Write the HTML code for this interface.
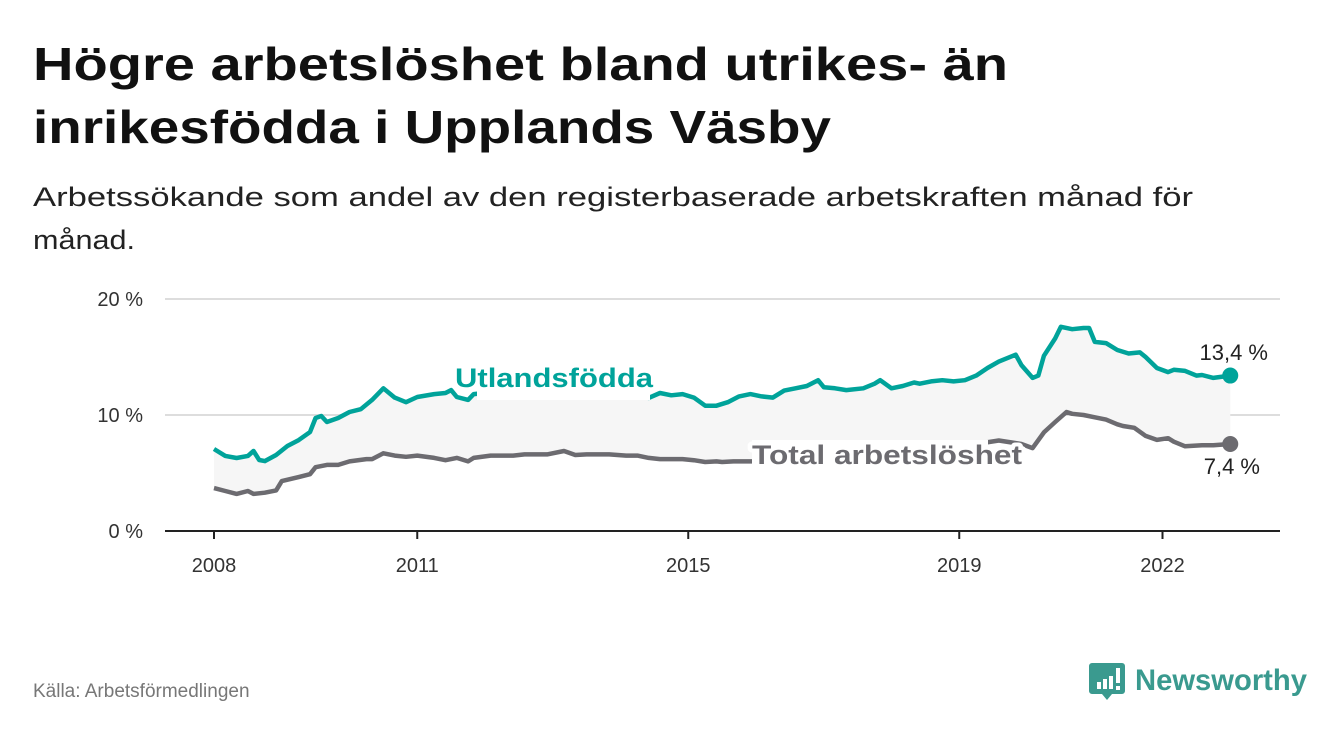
<!DOCTYPE html>
<html><head><meta charset="utf-8">
<style>
html,body{margin:0;padding:0;background:#fff;}
svg{display:block;font-family:"Liberation Sans",sans-serif;}
</style></head>
<body>
<svg id="chart" width="1340" height="734" viewBox="0 0 1340 734">
  <text x="33" y="80" font-size="46" font-weight="bold" fill="#111" textLength="975" lengthAdjust="spacingAndGlyphs">Högre arbetslöshet bland utrikes- än</text>
  <text x="33" y="143" font-size="46" font-weight="bold" fill="#111" textLength="798" lengthAdjust="spacingAndGlyphs">inrikesfödda i Upplands Väsby</text>
  <text x="33" y="206" font-size="27" fill="#222" textLength="1160" lengthAdjust="spacingAndGlyphs">Arbetssökande som andel av den registerbaserade arbetskraften månad för</text>
  <text x="33" y="249" font-size="27" fill="#222" textLength="102" lengthAdjust="spacingAndGlyphs">månad.</text>
  <g id="grid"></g>
  <g id="area"></g>
  <g id="lines"></g>
  <g id="labels"></g>
  <g id="xaxis"></g>
  <text x="33" y="697" font-size="19" fill="#777">Källa: Arbetsförmedlingen</text>
  <g>
    <path d="M1092 663 h30 a3 3 0 0 1 3 3 v25 a3 3 0 0 1 -3 3 h-10 l-5 6 l-5 -6 h-10 a3 3 0 0 1 -3 -3 v-25 a3 3 0 0 1 3 -3z" fill="#3a9a8f"/>
    <rect x="1097" y="682" width="4" height="7" fill="#fff"/><rect x="1103" y="679" width="4" height="10" fill="#fff"/><rect x="1109" y="676" width="4" height="13" fill="#fff"/><rect x="1116" y="668" width="4" height="15" fill="#fff"/><rect x="1116" y="686" width="4" height="4" fill="#fff"/>
    <text x="1135" y="690" font-size="30" font-weight="bold" fill="#3a9a8f" textLength="172" lengthAdjust="spacingAndGlyphs">Newsworthy</text>
  </g>
</svg>
<script>
// months since Jan 2008
const foreignMonths = [0,2,4,6,7,8,9,11,13,15,17,18,19,20,22,24,26,28,30,32,34,36,39,41,42,43,45,46,50,58,66,74,77,79,81,83,85,87,89,91,93,95,97,99,101,103,105,107,108,110,112,115,117,118,120,122,124,125,127,129,131,133,135,137,139,142,143,145,146,147,149,150,152,154,155,156,158,160,162,164,165,167,169,170,172,174,175,177,180];
const foreignValues = [7.07,6.47,6.29,6.47,6.9,6.12,6.03,6.55,7.33,7.84,8.53,9.74,9.91,9.4,9.74,10.26,10.5,11.3,12.3,11.5,11.1,11.55,11.8,11.9,12.15,11.55,11.3,11.8,12.0,12.2,11.9,11.8,11.47,11.9,11.7,11.8,11.5,10.8,10.8,11.1,11.6,11.8,11.6,11.5,12.1,12.3,12.5,13.0,12.4,12.3,12.15,12.3,12.7,13.0,12.3,12.5,12.8,12.7,12.9,13.0,12.9,13.0,13.4,14.05,14.6,15.2,14.3,13.2,13.4,15.1,16.6,17.6,17.4,17.5,17.5,16.3,16.2,15.6,15.3,15.4,15.0,14.05,13.7,13.9,13.8,13.4,13.45,13.2,13.4];
const totalMonths = [0,2,4,6,7,9,11,12,15,17,18,20,22,24,27,28,30,32,34,36,39,41,43,45,46,49,51,53,55,57,59,62,64,66,68,70,73,75,77,79,81,83,85,87,89,90,92,95,100,106,112,118,124,130,135,139,143,145,147,149,151,152,154,156,158,160,161,163,165,167,169,170,172,175,177,180];
const totalValues = [3.7,3.45,3.2,3.45,3.2,3.3,3.5,4.3,4.65,4.9,5.5,5.7,5.7,6.0,6.2,6.2,6.7,6.5,6.4,6.5,6.3,6.1,6.3,6.0,6.3,6.5,6.5,6.5,6.6,6.6,6.6,6.9,6.55,6.6,6.6,6.6,6.5,6.5,6.3,6.2,6.2,6.2,6.1,5.95,6.0,5.95,6.0,6.0,6.0,6.1,6.2,6.4,6.6,7.0,7.5,7.8,7.5,7.15,8.5,9.4,10.26,10.1,10.0,9.8,9.6,9.2,9.05,8.9,8.2,7.85,8.0,7.7,7.3,7.4,7.4,7.5];
const yTicks = [0,10,20];
const yTickLabels = ["0 %","10 %","20 %"];
const xTickYears = [2008,2011,2015,2019,2022];
const endLabels = ["13,4 %","7,4 %"];

const NS="http://www.w3.org/2000/svg";
const x = m => 214 + m*67.75/12;
const xYear = yr => x((yr-2008)*12);
const y = v => 531 - v*11.6;
function mk(tag, attrs, parent){const e=document.createElementNS(NS,tag);for(const k in attrs)e.setAttribute(k,attrs[k]);parent.appendChild(e);return e;}

const grid=document.getElementById('grid');
yTicks.forEach((t,i)=>{
  const l=mk('line',{x1:165,x2:1280,y1:y(t),y2:y(t),stroke:t===0?'#222':'#ddd','stroke-width':2},grid);
  
  
  const tx=mk('text',{x:143,y:y(t)+7,'text-anchor':'end','font-size':20,fill:'#333'},grid);
  tx.textContent=yTickLabels[i];
  
  
});

const xa=document.getElementById('xaxis');
xTickYears.forEach(yr=>{
  const l=mk('line',{x1:xYear(yr),x2:xYear(yr),y1:531,y2:539,stroke:'#222','stroke-width':2},xa);
  
  
  const t=mk('text',{x:xYear(yr),y:572,'text-anchor':'middle','font-size':20,fill:'#333'},xa);
  t.textContent=String(yr);
  
  
});

const pts=(ms,vs)=>ms.map((m,i)=>x(m).toFixed(1)+','+y(vs[i]).toFixed(1));
const fp=pts(foreignMonths,foreignValues), tp=pts(totalMonths,totalValues).reverse();
const area=mk('polygon',{points:fp.concat(tp).join(' '),fill:'#f6f6f6'},document.getElementById('area'));



const lines=document.getElementById('lines');
const lf=mk('polyline',{points:fp.join(' '),fill:'none',stroke:'#00a39a','stroke-width':4.5,'stroke-linejoin':'round'},lines);


const lt=mk('polyline',{points:tp.join(' '),fill:'none',stroke:'#6c6b70','stroke-width':4.5,'stroke-linejoin':'round'},lines);


const lastF=foreignMonths.length-1, lastT=totalMonths.length-1;
const d1=mk('circle',{cx:x(foreignMonths[lastF]),cy:y(foreignValues[lastF]),r:8,fill:'#00a39a'},lines);


const d2=mk('circle',{cx:x(totalMonths[lastT]),cy:y(totalValues[lastT]),r:8,fill:'#6c6b70'},lines);



const lab=document.getElementById('labels');
const m1=mk('rect',{x:477,y:380,width:173,height:20,fill:'#fff'},lab);


const m2=mk('rect',{x:752,y:440,width:236,height:28,fill:'#fff'},lab);


function seriesLabel(txt,xx,yy,w,color,name){
  const t=mk('text',{x:xx,y:yy,'font-size':27,'font-weight':'bold',fill:color,stroke:'#fff','stroke-width':8,'stroke-linejoin':'round','paint-order':'stroke',textLength:w,lengthAdjust:'spacingAndGlyphs'},lab);
  t.textContent=txt;
  
  
}
seriesLabel('Utlandsfödda',455,387,198,'#00a39a','utlandsfodda-label');
seriesLabel('Total arbetslöshet',752,464,270,'#6c6b70','total-label');
const e1=mk('text',{x:1268,y:360,'text-anchor':'end','font-size':22,fill:'#222'},lab);
e1.textContent=endLabels[0];


const e2=mk('text',{x:1260,y:474,'text-anchor':'end','font-size':22,fill:'#222'},lab);
e2.textContent=endLabels[1];


</script>
</body></html>
